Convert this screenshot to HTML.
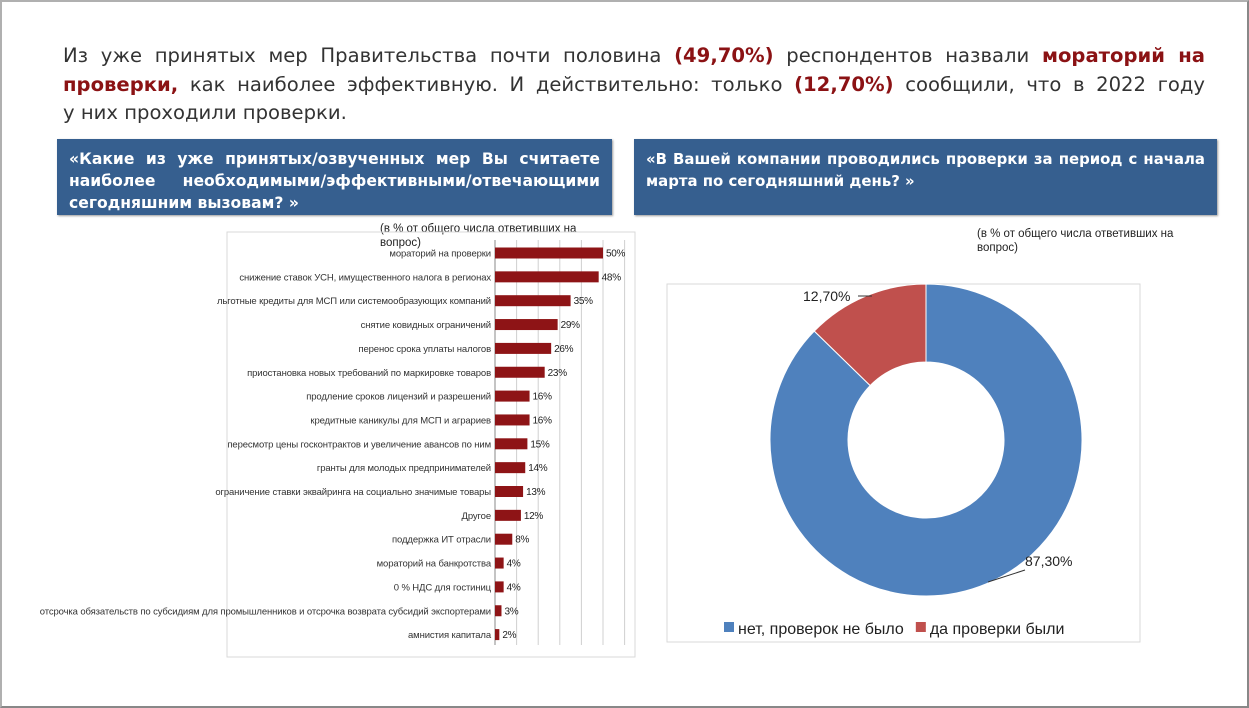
<!DOCTYPE html>
<html><head><meta charset="utf-8">
<style>
body{margin:0;width:1249px;height:708px;background:#fff;overflow:hidden;position:relative;font-family:"Liberation Sans","DejaVu Sans",sans-serif}
#frame{position:absolute;left:0;top:0;width:1245px;height:704px;border:2px solid #b0b0b0;border-right-color:#888;border-bottom-color:#888}
#title{position:absolute;left:63px;top:42px;width:1142px;font-family:"DejaVu Sans",sans-serif;font-size:19.6px;line-height:28.5px;color:#333;text-align:justify}
#title b{color:#8b1214}
.j{text-align:justify;text-align-last:justify}
.qbox{position:absolute;background:#365f8f;color:#fff;font-weight:bold;font-family:"DejaVu Sans",sans-serif;font-size:15.6px;line-height:22px;padding:9px 12px;box-sizing:border-box;text-align:justify;box-shadow:1px 1px 2px #999}
.note{position:absolute;font-size:11.5px;color:#222;line-height:14px}
</style></head><body>
<div id="frame"></div>
<div id="title"><div class="j">Из уже принятых мер Правительства почти половина <b>(49,70%)</b> респондентов назвали <b>мораторий на проверки,</b> как наиболее эффективную. И действительно: только <b>(12,70%)</b> сообщили, что в 2022 году</div><div>у них проходили проверки.</div></div>
<div class="qbox" style="left:57px;top:139px;width:555px;height:76px;text-align-last:left">«Какие из уже принятых/озвученных мер Вы считаете наиболее необходимыми/эффективными/отвечающими сегодняшним вызовам? »</div>
<div class="qbox" style="left:634px;top:139px;width:583px;height:76px;font-size:14.9px"><div class="j" style="white-space:nowrap">«В Вашей компании проводились проверки за период с начала</div><div>марта по сегодняшний день? »</div></div>
<div class="note" style="left:380px;top:222px;width:240px">(в % от общего числа ответивших на вопрос)</div>
<div class="note" style="left:977px;top:227px;width:230px">(в % от общего числа ответивших на вопрос)</div>

<svg id="bars" width="1249" height="708" style="position:absolute;left:0;top:0"></svg>
<svg id="pie" width="1249" height="708" style="position:absolute;left:0;top:0"></svg>

<script>
const categories=["мораторий на проверки","снижение ставок УСН, имущественного налога в регионах","льготные кредиты для МСП или системообразующих компаний","снятие ковидных ограничений","перенос срока уплаты налогов","приостановка новых требований по маркировке товаров","продление сроков лицензий и разрешений","кредитные каникулы для МСП и аграриев","пересмотр цены госконтрактов и увеличение авансов по ним","гранты для молодых предпринимателей","ограничение ставки эквайринга на социально значимые товары","Другое","поддержка ИТ отрасли","мораторий на банкротства","0 % НДС для гостиниц","отсрочка обязательств по субсидиям для промышленников и отсрочка возврата субсидий экспортерами","амнистия капитала"];
const values=[50,48,35,29,26,23,16,16,15,14,13,12,8,4,4,3,2];
const valueLabels=["50%","48%","35%","29%","26%","23%","16%","16%","15%","14%","13%","12%","8%","4%","4%","3%","2%"];
const gridTicks=[0,10,20,30,40,50,60];
const pieLabels=["нет, проверок не было","да проверки были"];
const pieValues=[87.3,12.7];
const pieValueLabels=["87,30%","12,70%"];

const NS="http://www.w3.org/2000/svg";
function mk(p,t,a){const e=document.createElementNS(NS,t);for(const k in a)e.setAttribute(k,a[k]);p.appendChild(e);return e;}
const bs=document.getElementById('bars');
const x0=495,pxPer=2.16;
const xs=v=>x0+v*pxPer;
const ys=i=>253+i*23.85;
const box=mk(bs,'rect',{x:227,y:232,width:408,height:425,fill:'none',stroke:'#d9d9d9'});


gridTicks.forEach(t=>{const g=mk(bs,'line',{x1:xs(t),x2:xs(t),y1:240,y2:645,stroke:t===0?'#888':'#d0d0d0','stroke-width':1});

});
categories.forEach((c,i)=>{
 const y=ys(i);
 const r=mk(bs,'rect',{x:x0,y:y-5.5,width:values[i]*pxPer,height:11,fill:'#8e1416'});
 
 
 const l=mk(bs,'text',{x:x0-4,y:y+3.5,'text-anchor':'end','font-size':9.5,fill:'#333','letter-spacing':'-0.12'});
 l.textContent=c;
 
 
 const v=mk(bs,'text',{x:xs(values[i])+3,y:y+3.5,'font-size':10,fill:'#222','letter-spacing':'-0.3'});
 v.textContent=valueLabels[i];
 
 
});

const ps=document.getElementById('pie');
const pb=mk(ps,'rect',{x:667,y:284,width:473,height:358,fill:'#fff',stroke:'#d9d9d9'});


const cx=926,cy=440,R=156,r0=78;
const colors=['#4f81bd','#c0504d'];
const total=pieValues.reduce((a,b)=>a+b,0);
function pt(a,rad){return [cx+rad*Math.sin(a),cy-rad*Math.cos(a)];}
let start=0;
pieValues.forEach((v,i)=>{
 const sweep=v/total*2*Math.PI,end=start+sweep,lg=sweep>Math.PI?1:0;
 const [a,b]=pt(start,R),[c,d]=pt(end,R),[e,f]=pt(end,r0),[g,h]=pt(start,r0);
 const p=mk(ps,'path',{d:`M${a},${b}A${R},${R} 0 ${lg} 1 ${c},${d}L${e},${f}A${r0},${r0} 0 ${lg} 0 ${g},${h}Z`,fill:colors[i],stroke:'#fff','stroke-width':1});
 
 
 start=end;
});
const l1=mk(ps,'line',{x1:988,y1:582,x2:1025,y2:570,stroke:'#333'});


const t1=mk(ps,'text',{x:1025,y:566,'font-size':14,fill:'#222'});t1.textContent=pieValueLabels[0];


const l2=mk(ps,'line',{x1:858,y1:296,x2:872,y2:296,stroke:'#333'});


const t2=mk(ps,'text',{x:803,y:301,'font-size':14,fill:'#222'});t2.textContent=pieValueLabels[1];


let lx=724;
pieLabels.forEach((s,i)=>{
 const sq=mk(ps,'rect',{x:lx,y:622,width:10,height:10,fill:colors[i]});
 
 
 const t=mk(ps,'text',{x:lx+14,y:634,'font-size':16,fill:'#222'});t.textContent=s;
 
 
 lx+=14+t.getComputedTextLength()+12;
});
</script>
</body></html>
